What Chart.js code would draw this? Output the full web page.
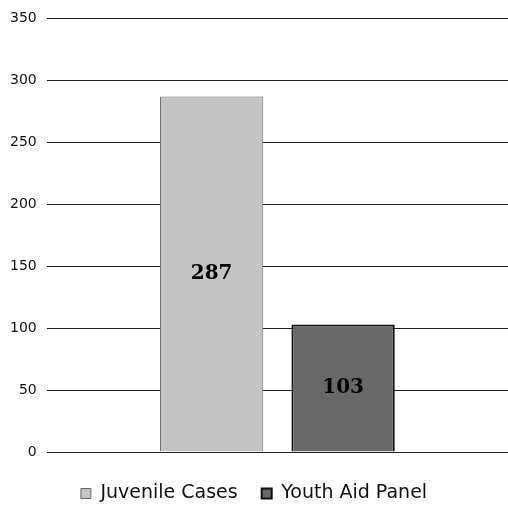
<!DOCTYPE html>
<html>
<head>
<meta charset="utf-8">
<script src="https://cdn.jsdelivr.net/npm/chart.js@4"></script>
<style>
  html, body { margin: 0; padding: 0; background: #fff; }
  #wrap { width: 508px; height: 519px; }
</style>
</head>
<body>
<div id="wrap"><canvas id="chart"></canvas></div>
<script>
const categories = [''];
const seriesNames = ['Juvenile Cases', 'Youth Aid Panel'];
const juvenileCases = [287];
const youthAidPanel = [103];
const yTicks = [0, 50, 100, 150, 200, 250, 300, 350];

// draw the value in the middle of each bar
const barLabels = {
    id: 'barLabels',
    afterDatasetsDraw(chart) {
        const ctx = chart.ctx;
        ctx.save();
        ctx.font = 'bold 20px "DejaVu Serif"';
        ctx.fillStyle = '#000';
        ctx.textAlign = 'center';
        ctx.textBaseline = 'middle';
        chart.data.datasets.forEach((ds, i) => {
            chart.getDatasetMeta(i).data.forEach((bar, j) => {
                const midY = (bar.y + bar.base) / 2;
                ctx.fillText(ds.data[j], bar.x, midY);
            });
        });
        ctx.restore();
    }
};

new Chart(document.getElementById('chart'), {
    type: 'bar',
    data: {
        labels: categories,
        datasets: [{
            label: seriesNames[0],
            data: juvenileCases,
            backgroundColor: '#c4c4c4',
            borderColor: '#6a6a6a',
            borderWidth: 1
        }, {
            label: seriesNames[1],
            data: youthAidPanel,
            backgroundColor: '#686868',
            borderColor: '#111',
            borderWidth: 2
        }]
    },
    options: {
        responsive: true,
        maintainAspectRatio: false,
        animation: false,
        categoryPercentage: 0.57,
        barPercentage: 0.786,
        layout: { padding: { top: 12, right: 0, left: 0, bottom: 6 } },
        plugins: {
            legend: {
                position: 'bottom',
                labels: {
                    color: '#111',
                    font: { family: 'DejaVu Sans', size: 19 },
                    boxWidth: 10,
                    boxHeight: 10,
                    padding: 24
                }
            },
            tooltip: { enabled: false }
        },
        scales: {
            x: {
                ticks: { display: false },
                grid: { display: false },
                border: { display: false }
            },
            y: {
                min: 0,
                max: 350,
                afterBuildTicks: axis => { axis.ticks = yTicks.map(v => ({ value: v })); },
                ticks: {
                    color: '#111',
                    font: { family: 'DejaVu Sans', size: 14 },
                    padding: 10
                },
                grid: { color: '#222', lineWidth: 1, drawTicks: false },
                border: { display: false }
            }
        }
    },
    plugins: [barLabels]
});
</script>
</body>
</html>
